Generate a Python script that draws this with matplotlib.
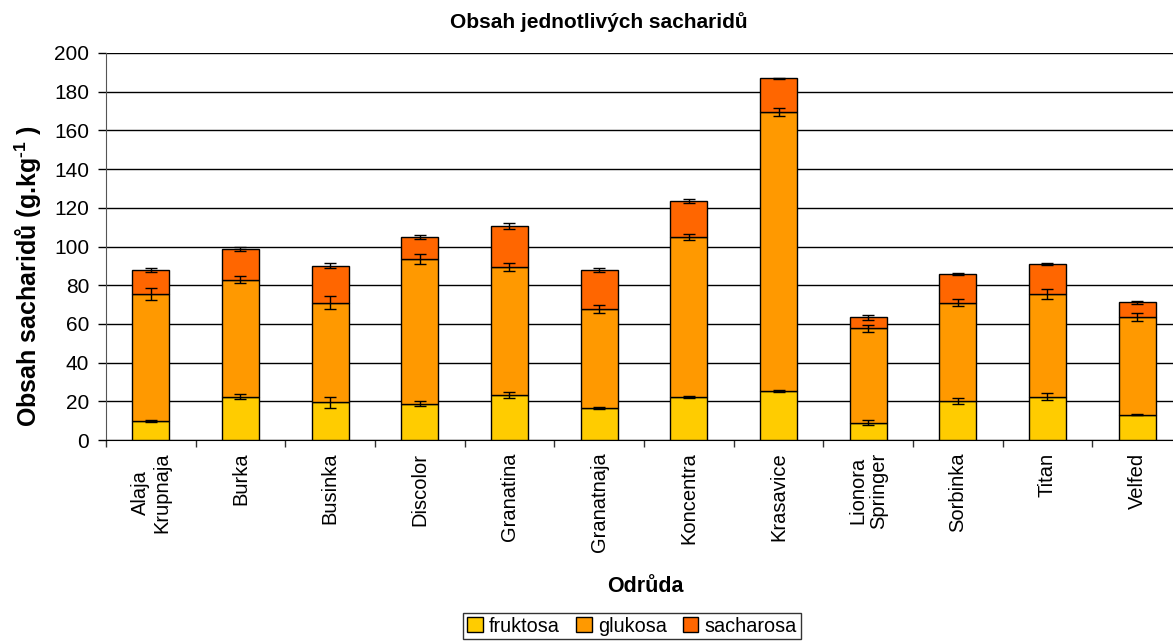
import matplotlib.pyplot as plt
import numpy as np

plt.rcParams['font.family'] = ['Liberation Sans', 'DejaVu Sans']
plt.rcParams['mathtext.fontset'] = 'custom'
plt.rcParams['mathtext.rm'] = 'Liberation Sans:bold'
plt.rcParams['mathtext.bf'] = 'Liberation Sans:bold'

# odrůdy a průměrné obsahy (g/kg)
odrudy = ['Alaja\nKrupnaja', 'Burka', 'Businka', 'Discolor', 'Granatina', 'Granatnaja',
          'Koncentra', 'Krasavice', 'Lionora\nSpringer', 'Sorbinka', 'Titan', 'Velfed']
fruktosa = [9.8, 22.4, 19.5, 18.8, 23.1, 16.7, 22.4, 25.3, 8.8, 20.3, 22.4, 13.1]
glukosa = [65.7, 60.3, 51.5, 74.9, 66.3, 51.0, 82.5, 144.2, 48.9, 50.7, 53.1, 50.3]
sacharosa = [12.4, 16.0, 19.1, 11.2, 21.4, 20.3, 18.6, 17.4, 5.7, 15.0, 15.3, 7.7]

# směrodatné odchylky
sd_fruktosa = [0.4, 1.2, 2.9, 1.2, 1.6, 0.5, 0.5, 0.5, 1.3, 1.6, 1.9, 0.4]
sd_glukosa = [3.0, 1.8, 3.3, 2.6, 2.2, 2.2, 1.5, 2.3, 1.9, 1.8, 2.5, 2.1]
sd_sacharosa = [1.0, 1.0, 1.3, 1.0, 1.5, 1.0, 1.2, 0.3, 1.3, 0.5, 0.6, 0.8]

barvy = ['#FFCC00', '#FF9900', '#FF6600']

fig = plt.figure(figsize=(11.73, 6.43), dpi=100)
ax = fig.add_axes([106/1173, 1 - 440/643, 1076/1173, 387/643])

x = np.arange(len(odrudy))
f = np.array(fruktosa); g = np.array(glukosa); s = np.array(sacharosa)
sirka = 0.41

ax.bar(x, f, sirka, color=barvy[0], edgecolor='black', linewidth=1, label='fruktosa', zorder=3)
ax.bar(x, g, sirka, bottom=f, color=barvy[1], edgecolor='black', linewidth=1, label='glukosa', zorder=3)
ax.bar(x, s, sirka, bottom=f + g, color=barvy[2], edgecolor='black', linewidth=1, label='sacharosa', zorder=3)

kw = dict(fmt='none', ecolor='black', elinewidth=1, capsize=4, capthick=1, zorder=4)
ax.errorbar(x, f, yerr=sd_fruktosa, **kw)
ax.errorbar(x, f + g, yerr=sd_glukosa, **kw)
ax.errorbar(x, f + g + s, yerr=sd_sacharosa, **kw)

ax.set_xlim(-0.5, len(odrudy) - 0.5)
ax.set_ylim(0, 200)
ax.set_yticks(np.arange(0, 201, 20))
ax.yaxis.grid(True, color='black', linewidth=1, zorder=0)
ax.set_axisbelow(True)

ax.set_xticks(x)
ax.set_xticklabels(odrudy, rotation=90, ha='center', va='top', fontsize=14.5, linespacing=1.15)
ax.set_xticks(np.arange(-0.5, len(odrudy), 1), minor=True)
ax.tick_params(axis='x', which='major', length=0, pad=9)
ax.tick_params(axis='x', which='minor', length=5, width=1, direction='out', color='#333333')
ax.tick_params(axis='y', length=6, width=1, direction='out', labelsize=15, pad=6)

for side in ['top', 'right']:
    ax.spines[side].set_visible(False)
ax.spines['left'].set_color('#555555')
ax.spines['bottom'].set_color('black')

ax.set_ylabel(r'Obsah sacharidů (g.kg$^{\text{-1}}$ )', fontsize=18, fontweight='bold')
ax.yaxis.set_label_coords(-0.058, 0.424)
fig.text(645/1173, 1 - 587/643, 'Odrůda', ha='center', va='center', fontsize=15.5, fontweight='bold')
fig.text(599/1173, 1 - 22/643, 'Obsah jednotlivých sacharidů', ha='center', va='center',
         fontsize=15, fontweight='bold')

leg = fig.legend(loc='center', bbox_to_anchor=(632/1173, 1 - 626/643), ncol=3, fontsize=14.3,
                 frameon=True, fancybox=False, edgecolor='black', handlelength=0.8, handleheight=0.8,
                 handletextpad=0.3, columnspacing=0.8, borderpad=0.2, borderaxespad=0)
leg.get_frame().set_linewidth(1)

plt.savefig('out.png', dpi=100)
